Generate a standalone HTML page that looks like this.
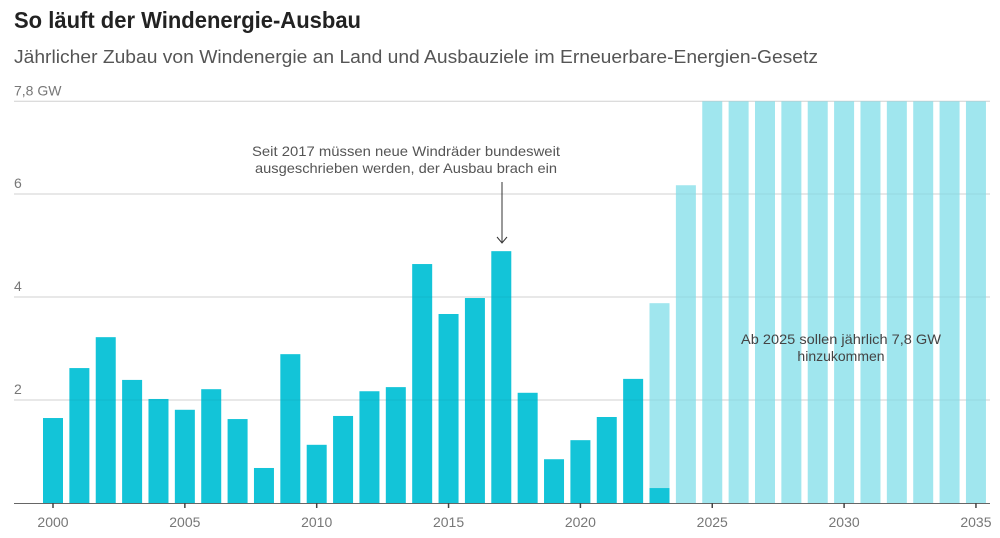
<!DOCTYPE html>
<html><head><meta charset="utf-8"><style>
body{margin:0;background:#fff;width:1000px;height:538px;overflow:hidden;font-family:"Liberation Sans",sans-serif}
svg{display:block}
</style></head><body>
<svg id="chart" width="1000" height="538" xmlns="http://www.w3.org/2000/svg" font-family="Liberation Sans, sans-serif">
<text x="14" y="28" font-size="23" font-weight="bold" fill="#222" textLength="347" lengthAdjust="spacingAndGlyphs">So läuft der Windenergie-Ausbau</text>
<text x="14" y="63" font-size="18" fill="#555" textLength="804" lengthAdjust="spacingAndGlyphs">Jährlicher Zubau von Windenergie an Land und Ausbauziele im Erneuerbare-Energien-Gesetz</text>
<g id="grid"></g>
<g id="bars"></g>
<g id="gridtop"></g>
<g id="xaxis"></g>
<text font-size="14" fill="#555" text-anchor="middle"><tspan x="406" y="156" textLength="308" lengthAdjust="spacingAndGlyphs">Seit 2017 müssen neue Windräder bundesweit</tspan><tspan x="406" y="173" textLength="302" lengthAdjust="spacingAndGlyphs">ausgeschrieben werden, der Ausbau brach ein</tspan></text>
<line x1="502" y1="182" x2="502" y2="242" stroke="#333" stroke-width="1"/>
<path d="M497 237 L502 243 L507 237" fill="none" stroke="#333" stroke-width="1"/>
<text font-size="14" fill="#444" text-anchor="middle"><tspan x="841" y="344" textLength="200" lengthAdjust="spacingAndGlyphs">Ab 2025 sollen jährlich 7,8 GW</tspan><tspan x="841" y="361">hinzukommen</tspan></text>
</svg>
<script>
const years=[2000,2001,2002,2003,2004,2005,2006,2007,2008,2009,2010,2011,2012,2013,2014,2015,2016,2017,2018,2019,2020,2021,2022,2023];
const actual=[1.65,2.62,3.22,2.39,2.02,1.81,2.21,1.63,0.68,2.89,1.13,1.69,2.17,2.25,4.64,3.67,3.98,4.89,2.14,0.85,1.22,1.67,2.41,0.29];
const targetYears=[2023,2024,2025,2026,2027,2028,2029,2030,2031,2032,2033,2034,2035];
const targets=[3.88,6.17,7.8,7.8,7.8,7.8,7.8,7.8,7.8,7.8,7.8,7.8,7.8];
const yTicks=[2,4,6,7.8];
const yTickLabels=["2","4","6","7,8 GW"];
const xTicks=[2000,2005,2010,2015,2020,2025,2030,2035];
const NS="http://www.w3.org/2000/svg";
const x=y=>53+(y-2000)*26.37;
const yv=v=>503-v*51.5;
const bw=20;
function mk(tag,attrs,parent){const e=document.createElementNS(NS,tag);for(const k in attrs)e.setAttribute(k,attrs[k]);document.getElementById(parent).appendChild(e);return e;}
yTicks.forEach((t,i)=>{
  const l=mk('line',{x1:14,x2:990,y1:yv(t),y2:yv(t),stroke:'#ddd','stroke-width':1},'grid');
  
  
  const tx=mk('text',{x:14,y:yv(t)-6,'font-size':14,fill:'#777'},'grid');
  tx.textContent=yTickLabels[i];
  
  
});
targetYears.forEach((yr,i)=>{
  const r=mk('rect',{x:x(yr)-bw/2,y:yv(targets[i]),width:bw,height:503-yv(targets[i]),fill:'#a0e6ee'},'bars');
  
  
});
years.forEach((yr,i)=>{
  const r=mk('rect',{x:x(yr)-bw/2,y:yv(actual[i]),width:bw,height:503-yv(actual[i]),fill:'#13c4d8'},'bars');
  
  
});
yTicks.forEach(t=>{
  const l=mk('line',{x1:14,x2:990,y1:yv(t),y2:yv(t),stroke:'#000','stroke-opacity':0.06,'stroke-width':1},'gridtop');
  
  
});
const base=mk('line',{x1:14,x2:990,y1:503.5,y2:503.5,stroke:'#666','stroke-width':1},'xaxis');


xTicks.forEach(t=>{
  const l=mk('line',{x1:x(t),x2:x(t),y1:503,y2:508,stroke:'#444','stroke-width':1.5},'xaxis');
  
  
  const tx=mk('text',{x:x(t),y:527,'font-size':14,fill:'#777','text-anchor':'middle'},'xaxis');
  tx.textContent=t;
  
  
});
</script>
</body></html>
